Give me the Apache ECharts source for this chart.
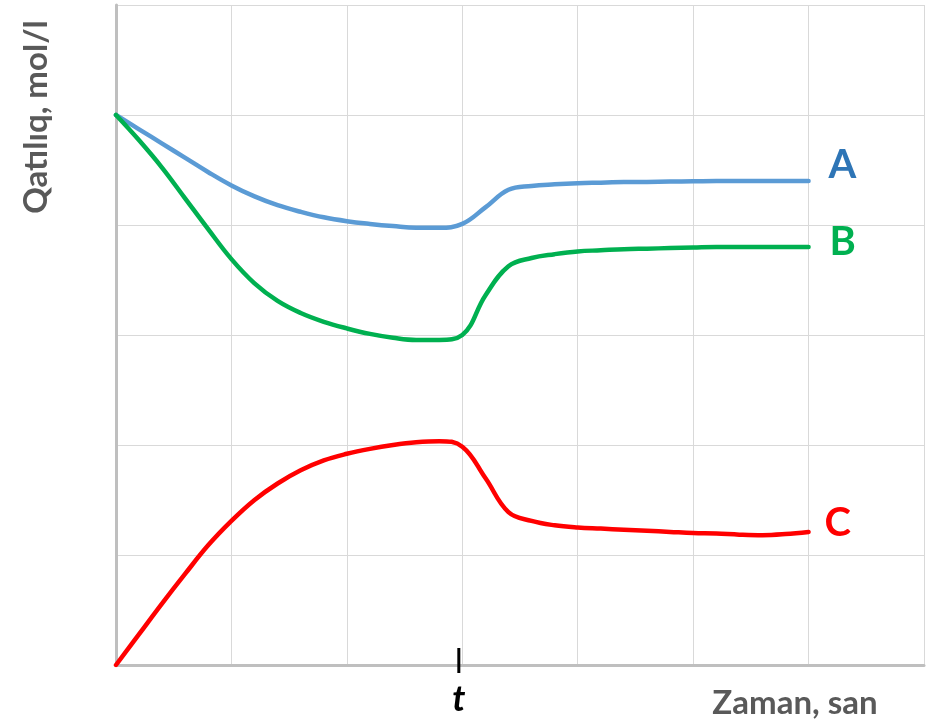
<!DOCTYPE html>
<html>
<head>
<meta charset="utf-8">
<script src="https://cdn.jsdelivr.net/npm/echarts@6/dist/echarts.min.js"></script>
<style>html,body{margin:0;padding:0;background:#fff}#c{width:936px;height:721px}</style>
</head>
<body>
<div id="c"></div>
<script>
const xs = [0, 0.2, 0.4, 0.6, 0.8, 1.0, 1.2, 1.4, 1.6, 1.8, 2.0, 2.2, 2.4, 2.6, 2.8, 3.0, 3.2, 3.4, 3.6, 3.8, 4.0, 4.2, 4.4, 4.6, 4.8, 5.0, 5.2, 5.4, 5.6, 5.8, 6.0];
const seriesA = [5.00, 4.87, 4.74, 4.61, 4.48, 4.36, 4.26, 4.18, 4.12, 4.07, 4.035, 4.01, 3.99, 3.975, 3.975, 4.01, 4.16, 4.32, 4.355, 4.37, 4.38, 4.385, 4.39, 4.392, 4.395, 4.397, 4.40, 4.40, 4.40, 4.40, 4.40];
const seriesB = [5.00, 4.77, 4.52, 4.24, 3.96, 3.69, 3.47, 3.31, 3.20, 3.12, 3.06, 3.01, 2.975, 2.955, 2.955, 3.00, 3.36, 3.625, 3.70, 3.735, 3.76, 3.77, 3.78, 3.785, 3.79, 3.795, 3.80, 3.80, 3.80, 3.80, 3.80];
const seriesC = [0.00, 0.28, 0.56, 0.83, 1.09, 1.31, 1.50, 1.65, 1.77, 1.86, 1.92, 1.965, 2.00, 2.025, 2.035, 1.985, 1.70, 1.39, 1.31, 1.27, 1.25, 1.24, 1.23, 1.22, 1.21, 1.20, 1.195, 1.185, 1.18, 1.19, 1.21];
const names = ['A', 'B', 'C'];
const tValue = 2.97;
const tLabel = 't';
const yTitle = 'Qatılıq, mol/l';
const xTitle = 'Zaman, san';

const pairs = arr => xs.map((x, i) => [x, arr[i]]);
const font = 'Lato, "Open Sans", sans-serif';

const chart = echarts.init(document.getElementById('c'), null, {renderer: 'canvas'});
function mk(name, data, lineColor, labelColor, offset) {
  return {
    name, type: 'line', data: pairs(data), smooth: 0.4, showSymbol: false, symbol: 'none',
    lineStyle: {color: lineColor, width: 4.5, cap: 'round', join: 'round'},
    endLabel: {show: true, formatter: name, color: labelColor, fontSize: 40, fontWeight: 'bold', fontFamily: font, offset, distance: 0},
    animation: false
  };
}
chart.setOption({
  animation: false,
  grid: {left: 116, right: 12, top: 5, bottom: 56},
  xAxis: {
    type: 'value', min: 0, max: 7, interval: 1,
    axisLine: {show: true, lineStyle: {color: '#bfbfbf', width: 3}},
    axisTick: {show: false},
    axisLabel: {show: true, customValues: [tValue], formatter: () => tLabel, color: '#000', fontSize: 36, fontWeight: 'bold', fontStyle: 'italic', fontFamily: font, margin: 16},
    splitLine: {show: true, lineStyle: {color: '#d9d9d9', width: 1}}
  },
  yAxis: {
    type: 'value', min: 0, max: 6, interval: 1,
    axisLine: {show: true, onZero: false, lineStyle: {color: '#bfbfbf', width: 3}},
    axisTick: {show: false},
    axisLabel: {show: false},
    splitLine: {show: true, lineStyle: {color: '#d9d9d9', width: 1}}
  },
  series: [
    mk(names[0], seriesA, '#5b9bd5', '#2e75b6', [20, -16]),
    mk(names[1], seriesB, '#00b050', '#00b050', [21, -5]),
    mk(names[2], seriesC, '#ff0000', '#ff0000', [16, -9])
  ]
});
const p0 = chart.convertToPixel({gridIndex: 0}, [tValue, 0]);
chart.setOption({
  graphic: [
    {type: 'line', shape: {x1: p0[0], y1: p0[1] - 17, x2: p0[0], y2: p0[1] + 8}, style: {stroke: '#000', lineWidth: 3}, z: 10},
    {type: 'text', x: 36, y: 117, rotation: Math.PI / 2, style: {text: yTitle, fill: '#595959', font: 'bold 33px ' + font, textAlign: 'center', textVerticalAlign: 'middle'}},
    {type: 'text', x: 795, y: 703, style: {text: xTitle, fill: '#595959', font: 'bold 33px ' + font, textAlign: 'center', textVerticalAlign: 'middle'}}
  ]
});
</script>
</body>
</html>
